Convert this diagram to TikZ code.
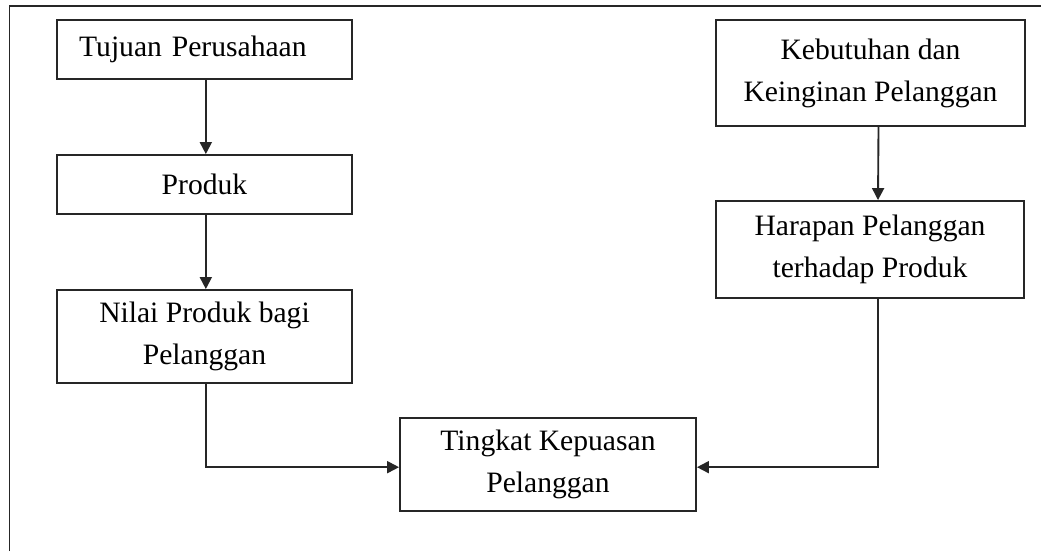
\documentclass[tikz,border=0pt]{standalone}
\usepackage{fontspec}
\setmainfont{Liberation Serif}
\usetikzlibrary{arrows.meta}
\begin{document}
\begin{tikzpicture}[x=0.75pt,y=-0.75pt,
    kotak/.style={draw=black!85,line width=1.4pt,rectangle,align=center,
        font=\fontsize{22.2}{31.5}\selectfont,inner sep=0pt},
    panah/.style={draw=black!85,line width=1.4pt,-{Triangle[length=9pt,width=9pt]}}]
\useasboundingbox (0,0) rectangle (1041,551);
% frame
\draw [black!85, line width=1.4pt] (9.5,551) -- (9.5,6) -- (1041,6);
% left column
\node[kotak,minimum width=221.25pt,minimum height=44.25pt,text width=188pt,align=left] (tujuan) at (204.5,49.5) {Tujuan Perusahaan};
\node[kotak,minimum width=221.25pt,minimum height=44.25pt] (produk) at (204.5,184.5) {Produk};
\node[kotak,minimum width=221.25pt,minimum height=69.75pt] (nilai) at (204.5,336.5) {Nilai Produk bagi\\Pelanggan};
% right column
\node[kotak,minimum width=231.75pt,minimum height=79.5pt] (kebutuhan) at (870.5,73) {Kebutuhan dan\\Keinginan Pelanggan};
\node[kotak,minimum width=231pt,minimum height=72.75pt] (harapan) at (870,249.5) {Harapan Pelanggan\\terhadap Produk};
% bottom
\node[kotak,minimum width=222pt,minimum height=69.75pt] (tingkat) at (548,464.5) {Tingkat Kepuasan\\Pelanggan};
% connectors
\draw[panah] ([xshift=1pt]tujuan.south) -- ([xshift=1pt]produk.north);
\draw[panah] ([xshift=1pt]produk.south) -- ([xshift=1pt]nilai.north);
\draw[panah] ([xshift=6pt]kebutuhan.south) -- ([xshift=6pt]harapan.north);
\draw[panah] ([xshift=1pt]nilai.south) |- ([yshift=-2pt]tingkat.west);
\draw[panah] ([xshift=6pt]harapan.south) |- ([yshift=-2pt]tingkat.east);
\end{tikzpicture}
\end{document}
